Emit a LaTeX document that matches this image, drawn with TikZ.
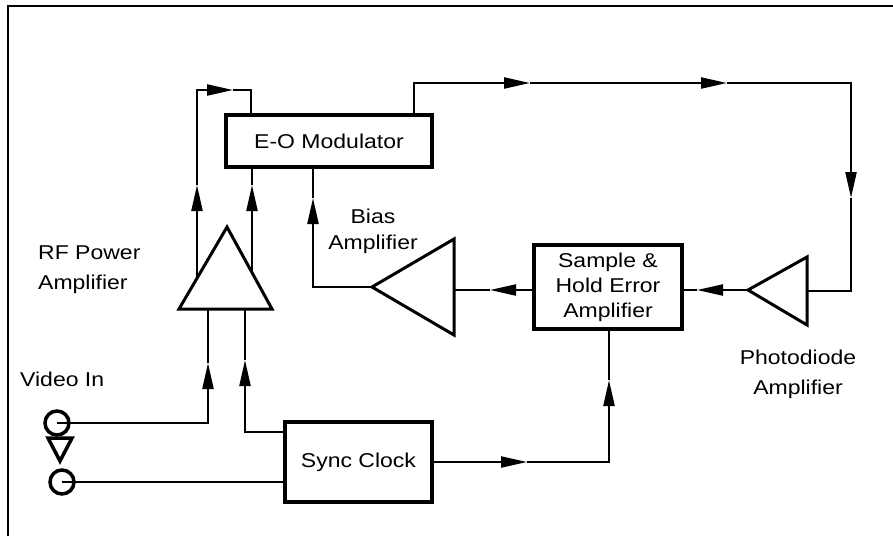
\documentclass[tikz,border=0pt]{standalone}
\usepackage{fontspec}
\setmainfont{Liberation Sans}[FakeStretch=1.15]
\usetikzlibrary{arrows.meta}
\begin{document}
\begin{tikzpicture}[x=1pt,y=-1pt,
  conn/.style={line width=2.2pt},
  arr/.style={conn,-{Triangle[length=26pt,width=11pt]}},
  tri/.style={line width=3pt,line join=miter},
  box/.style={draw,line width=3.5pt,inner sep=0pt,font=\fontsize{20}{25}\selectfont},
  lbl/.style={inner sep=0pt,font=\fontsize{20}{30}\selectfont}
]
\useasboundingbox (0,0) rectangle (893,536);
% frame
\draw[line width=2pt] (8,536) -- (8,6) -- (893,6);

% boxes
\node[box, minimum width=206pt, minimum height=52pt] (eo) at (329,141) {E-O Modulator};
\node[box, minimum width=148pt, minimum height=84pt, align=center] (sh) at (608,287) {Sample \&\\Hold Error\\Amplifier};
\node[box, minimum width=147pt, minimum height=80pt] (sc) at (358.5,462) {Sync Clock};

% RF power amplifier triangle
\coordinate (rfA) at (227,227);
\coordinate (rfL) at (179,309);
\coordinate (rfR) at (272,309);
\draw[tri] (rfA) -- (rfL) -- (rfR) -- cycle;
\coordinate (rfo1) at (197,278);
\coordinate (rfo2) at (252,273);
\coordinate (rfi1) at (208,309);
\coordinate (rfi2) at (245,309);

% Bias amplifier triangle
\coordinate (bA) at (372,287);
\coordinate (bT) at (454,239);
\coordinate (bB) at (454,335);
\draw[tri] (bA) -- (bT) -- (bB) -- cycle;
\coordinate (bIn) at (454,290);

% Photodiode amplifier triangle
\coordinate (pA) at (748,290);
\coordinate (pT) at (807,257);
\coordinate (pB) at (807,325);
\draw[tri] (pA) -- (pT) -- (pB) -- cycle;
\coordinate (pIn) at (807,291);

% Video In connector
\coordinate (vin1) at (57,423);
\coordinate (vin2) at (62,482);
\draw[line width=3.5pt] (vin1) circle (12pt);
\draw[line width=3.5pt] (vin2) circle (12pt);
\draw[line width=3.5pt,line join=miter] (48,438) -- (72,438) -- (60,461) -- cycle;

% labels
\node[lbl, anchor=west, align=left] (rfl) at (38,270) {RF Power\\Amplifier};
\node[lbl, align=center, font=\fontsize{20}{26}\selectfont] (bl) at (373,231) {Bias\\Amplifier};
\node[lbl, align=center] (pl) at (798,374) {Photodiode\\Amplifier};
\node[lbl, anchor=west] (vl) at (20,379) {Video In};

% connector 1: RF -> loop -> E-O top
\coordinate (f1tip) at (197,185);
\coordinate (f1) at (197,90);
\coordinate (f2tip) at (233,90);
\coordinate (f2) at (251,90);
\draw[arr] (rfo1) -- (f1tip);
\draw[arr] (f1tip) -- (f1) -- (f2tip);
\draw[conn] (f2tip) -- (f2) -- (f2 |- eo.north);

% connector 2: RF -> E-O bottom
\coordinate (r2tip) at (252,185);
\draw[arr] (rfo2) -- (r2tip);
\draw[conn] (r2tip) -- (r2tip |- eo.south);

% connector 3: Video In -> RF
\coordinate (v1tip) at (208,363);
\draw[arr] (vin1) -| (v1tip);
\draw[conn] (v1tip) -- (rfi1);

% connector 4: Sync Clock -> RF
\coordinate (scw1) at (285,432);
\coordinate (s2tip) at (245,360);
\draw[arr] (scw1) -| (s2tip);
\draw[conn] (s2tip) -- (rfi2);

% connector 5: Video In -> Sync Clock
\draw[conn] (vin2) -- (vin2 -| sc.west);

% connector 6: Sync Clock -> Sample & Hold
\coordinate (t6a) at (527,462);
\coordinate (t6b) at (609,380);
\draw[arr] (sc.east) -- (t6a);
\draw[arr] (t6a) -| (t6b);
\draw[conn] (t6b) -- (t6b |- sh.south);

% connector 7: Sample & Hold -> Bias amp
\coordinate (shw) at (534,290);
\coordinate (t7) at (490,290);
\draw[arr] (shw) -- (t7);
\draw[conn] (t7) -- (bIn);

% connector 8: Bias amp -> E-O
\coordinate (t8) at (313,198);
\draw[arr] (bA) -| (t8);
\draw[conn] (t8) -- (t8 |- eo.south);

% connector 9: E-O -> Photodiode amp
\coordinate (eot) at (414,115);
\coordinate (t9a) at (530,83);
\coordinate (t9b) at (727,83);
\coordinate (t9c) at (851,198);
\draw[arr] (eot) |- (t9a);
\draw[arr] (t9a) -- (t9b);
\draw[arr] (t9b) -| (t9c);
\draw[conn] (t9c) |- (pIn);

% connector 10: Photodiode amp -> Sample & Hold
\coordinate (t10) at (697,290);
\coordinate (she) at (682,290);
\draw[arr] (pA) -- (t10);
\draw[conn] (t10) -- (she);
\end{tikzpicture}
\end{document}
